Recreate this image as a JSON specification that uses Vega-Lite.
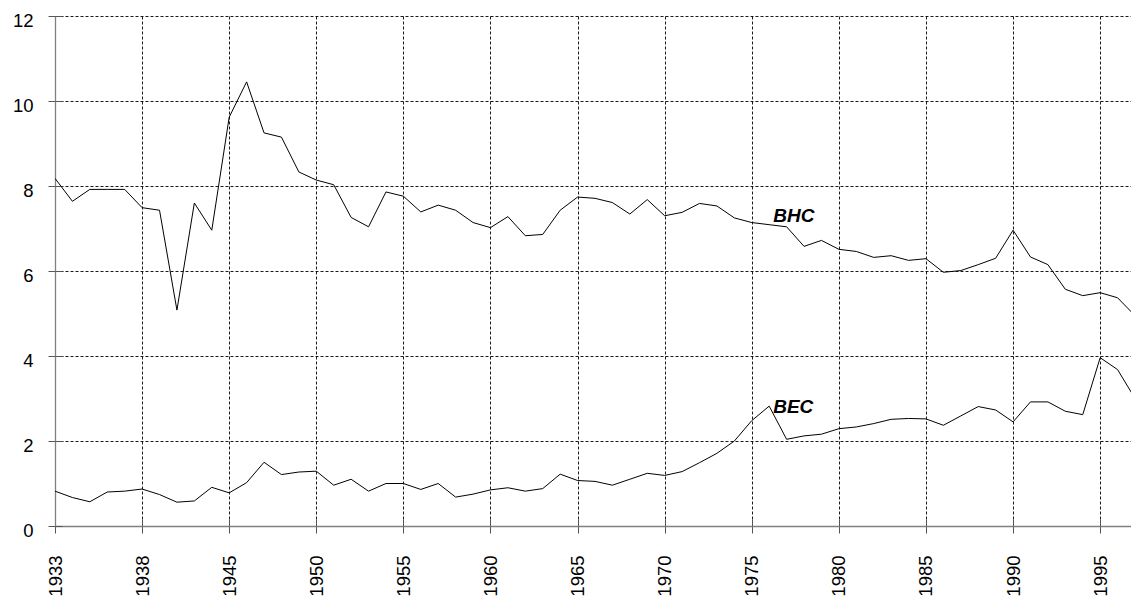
{
  "$schema": "https://vega.github.io/schema/vega-lite/v6.json",
  "autosize": {"type": "none"},
  "width": 1076,
  "height": 510,
  "padding": {"left": 55, "top": 16, "right": 0, "bottom": 73},
  "background": "white",
  "config": {
    "view": {"stroke": null},
    "font": "Liberation Sans",
    "axis": {"labelFont": "Liberation Sans", "labelFontSize": 18.5, "labelColor": "#000", "title": null}
  },
  "datasets": {
    "series": [
      {"year":1933,"series":"BHC","value":8.18},{"year":1934,"series":"BHC","value":7.64},{"year":1935,"series":"BHC","value":7.92},{"year":1936,"series":"BHC","value":7.92},{"year":1937,"series":"BHC","value":7.92},{"year":1938,"series":"BHC","value":7.49},
      {"year":1941,"series":"BHC","value":7.43},{"year":1942,"series":"BHC","value":5.08},{"year":1943,"series":"BHC","value":7.60},{"year":1944,"series":"BHC","value":6.96},{"year":1945,"series":"BHC","value":9.62},{"year":1946,"series":"BHC","value":10.45},{"year":1947,"series":"BHC","value":9.25},{"year":1948,"series":"BHC","value":9.15},{"year":1949,"series":"BHC","value":8.33},{"year":1950,"series":"BHC","value":8.14},
      {"year":1951,"series":"BHC","value":8.03},{"year":1952,"series":"BHC","value":7.26},{"year":1953,"series":"BHC","value":7.04},{"year":1954,"series":"BHC","value":7.86},{"year":1955,"series":"BHC","value":7.76},{"year":1956,"series":"BHC","value":7.39},{"year":1957,"series":"BHC","value":7.55},{"year":1958,"series":"BHC","value":7.43},{"year":1959,"series":"BHC","value":7.14},{"year":1960,"series":"BHC","value":7.02},
      {"year":1961,"series":"BHC","value":7.28},{"year":1962,"series":"BHC","value":6.83},{"year":1963,"series":"BHC","value":6.86},{"year":1964,"series":"BHC","value":7.43},{"year":1965,"series":"BHC","value":7.74},{"year":1966,"series":"BHC","value":7.71},{"year":1967,"series":"BHC","value":7.61},{"year":1968,"series":"BHC","value":7.34},{"year":1969,"series":"BHC","value":7.68},{"year":1970,"series":"BHC","value":7.30},
      {"year":1971,"series":"BHC","value":7.38},{"year":1972,"series":"BHC","value":7.59},{"year":1973,"series":"BHC","value":7.53},{"year":1974,"series":"BHC","value":7.25},{"year":1975,"series":"BHC","value":7.14},{"year":1976,"series":"BHC","value":7.09},{"year":1977,"series":"BHC","value":7.04},{"year":1978,"series":"BHC","value":6.58},{"year":1979,"series":"BHC","value":6.72},{"year":1980,"series":"BHC","value":6.51},
      {"year":1981,"series":"BHC","value":6.46},{"year":1982,"series":"BHC","value":6.32},{"year":1983,"series":"BHC","value":6.36},{"year":1984,"series":"BHC","value":6.25},{"year":1985,"series":"BHC","value":6.29},{"year":1986,"series":"BHC","value":5.97},{"year":1987,"series":"BHC","value":6.01},{"year":1988,"series":"BHC","value":6.15},{"year":1989,"series":"BHC","value":6.30},{"year":1990,"series":"BHC","value":6.96},
      {"year":1991,"series":"BHC","value":6.33},{"year":1992,"series":"BHC","value":6.15},{"year":1993,"series":"BHC","value":5.57},{"year":1994,"series":"BHC","value":5.42},{"year":1995,"series":"BHC","value":5.49},{"year":1996,"series":"BHC","value":5.37},{"year":1997,"series":"BHC","value":4.95},
      {"year":1933,"series":"BEC","value":0.82},{"year":1934,"series":"BEC","value":0.67},{"year":1935,"series":"BEC","value":0.57},{"year":1936,"series":"BEC","value":0.80},{"year":1937,"series":"BEC","value":0.82},{"year":1938,"series":"BEC","value":0.87},
      {"year":1941,"series":"BEC","value":0.74},{"year":1942,"series":"BEC","value":0.56},{"year":1943,"series":"BEC","value":0.59},{"year":1944,"series":"BEC","value":0.91},{"year":1945,"series":"BEC","value":0.78},{"year":1946,"series":"BEC","value":1.02},{"year":1947,"series":"BEC","value":1.50},{"year":1948,"series":"BEC","value":1.21},{"year":1949,"series":"BEC","value":1.27},{"year":1950,"series":"BEC","value":1.29},
      {"year":1951,"series":"BEC","value":0.96},{"year":1952,"series":"BEC","value":1.10},{"year":1953,"series":"BEC","value":0.82},{"year":1954,"series":"BEC","value":1.00},{"year":1955,"series":"BEC","value":1.00},{"year":1956,"series":"BEC","value":0.86},{"year":1957,"series":"BEC","value":1.00},{"year":1958,"series":"BEC","value":0.68},{"year":1959,"series":"BEC","value":0.75},{"year":1960,"series":"BEC","value":0.85},
      {"year":1961,"series":"BEC","value":0.90},{"year":1962,"series":"BEC","value":0.82},{"year":1963,"series":"BEC","value":0.88},{"year":1964,"series":"BEC","value":1.22},{"year":1965,"series":"BEC","value":1.07},{"year":1966,"series":"BEC","value":1.05},{"year":1967,"series":"BEC","value":0.96},{"year":1968,"series":"BEC","value":1.10},{"year":1969,"series":"BEC","value":1.24},{"year":1970,"series":"BEC","value":1.19},
      {"year":1971,"series":"BEC","value":1.28},{"year":1972,"series":"BEC","value":1.49},{"year":1973,"series":"BEC","value":1.71},{"year":1974,"series":"BEC","value":2.00},{"year":1975,"series":"BEC","value":2.48},{"year":1976,"series":"BEC","value":2.82},{"year":1977,"series":"BEC","value":2.04},{"year":1978,"series":"BEC","value":2.12},{"year":1979,"series":"BEC","value":2.16},{"year":1980,"series":"BEC","value":2.29},
      {"year":1981,"series":"BEC","value":2.33},{"year":1982,"series":"BEC","value":2.41},{"year":1983,"series":"BEC","value":2.51},{"year":1984,"series":"BEC","value":2.53},{"year":1985,"series":"BEC","value":2.52},{"year":1986,"series":"BEC","value":2.37},{"year":1987,"series":"BEC","value":2.59},{"year":1988,"series":"BEC","value":2.81},{"year":1989,"series":"BEC","value":2.73},{"year":1990,"series":"BEC","value":2.45},
      {"year":1991,"series":"BEC","value":2.92},{"year":1992,"series":"BEC","value":2.92},{"year":1993,"series":"BEC","value":2.70},{"year":1994,"series":"BEC","value":2.62},{"year":1995,"series":"BEC","value":3.96},{"year":1996,"series":"BEC","value":3.68},{"year":1997,"series":"BEC","value":3.00}
    ],
    "labels": [
      {"year":1976,"value":7.29,"label":"BHC"},
      {"year":1976,"value":2.80,"label":"BEC"}
    ]
  },
  "layer": [
    {
      "data": {"name": "series"},
      "mark": {"type": "line", "color": "#000", "strokeWidth": 1, "clip": true},
      "encoding": {
        "x": {
          "field": "year", "type": "ordinal",
          "scale": {"type": "point", "padding": 0, "range": [0, 1080]},
          "axis": {
            "orient": "bottom",
            "values": [1933,1938,1945,1950,1955,1960,1965,1970,1975,1980,1985,1990,1995],
            "labelAngle": -90, "labelPadding": 22, "tickSize": 7, "tickColor": "#555", "tickWidth": 1,
            "domainColor": "#808080", "domainWidth": 1.3,
            "grid": true, "gridColor": "#000", "gridDash": [3, 2], "gridWidth": 1, "gridOpacity": 0.9
          }
        },
        "y": {
          "field": "value", "type": "quantitative",
          "scale": {"domain": [0, 12], "nice": false, "zero": true},
          "axis": {
            "orient": "left",
            "values": [0,2,4,6,8,10,12],
            "labelPadding": 15, "labelOffset": 4, "tickSize": 7, "tickColor": "#555", "tickWidth": 1,
            "domainColor": "#808080", "domainWidth": 1.3,
            "grid": true, "gridColor": "#000", "gridDash": [3, 2], "gridWidth": 1, "gridOpacity": 0.9
          }
        },
        "detail": {"field": "series", "type": "nominal"}
      }
    },
    {
      "data": {"name": "labels"},
      "mark": {"type": "text", "align": "left", "baseline": "middle", "dx": 4, "font": "Liberation Sans", "fontSize": 19, "fontWeight": "bold", "fontStyle": "italic", "color": "#000"},
      "encoding": {
        "x": {
          "field": "year", "type": "ordinal",
          "axis": {
            "orient": "bottom",
            "values": [1933,1938,1945,1950,1955,1960,1965,1970,1975,1980,1985,1990,1995],
            "labels": false, "domain": false, "grid": false, "tickSize": -7, "tickColor": "#555", "tickWidth": 1
          }
        },
        "y": {
          "field": "value", "type": "quantitative",
          "axis": {
            "orient": "left",
            "values": [0,2,4,6,8,10,12],
            "labels": false, "domain": false, "grid": false, "tickSize": -7, "tickColor": "#555", "tickWidth": 1
          }
        },
        "text": {"field": "label"}
      }
    }
  ],
  "resolve": {"axis": {"x": "independent", "y": "independent"}}
}
